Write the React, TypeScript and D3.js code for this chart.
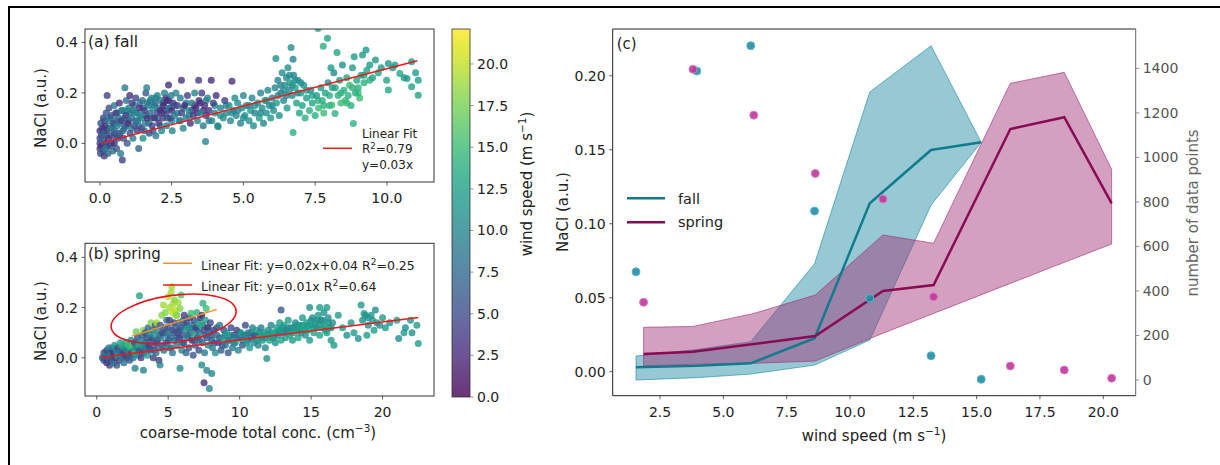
import * as d3 from "d3";

const FONT = "'DejaVu Sans', sans-serif";
const INK = "#222";

// (a) fall scatter: [coarse conc, NaCl, wind speed]
const fallScatter: number[][] = [
  [0,0.0,4],[0,0.02,5],[0,-0.02,4],[0,0.05,3],[0.02,-0.04,5],[0.03,0.08,6],[0.05,-0.01,3],[0.05,0.03,5],[0.08,0.06,4],[0.1,-0.03,6],[0.1,0.01,7],[0.12,0.1,5],[0.15,-0.05,4],[0.15,0.04,8],[0.18,0.07,3],[0.2,0.0,5],[0.2,-0.02,9],[0.22,0.12,6],[0.25,0.05,4],[0.25,0.19,4],[0.28,-0.04,7],[0.3,0.02,3],[0.3,0.09,9],[0.32,0.14,5],
  [0.35,-0.01,5],[0.38,0.06,10],[0.4,0.11,6],[0.42,0.03,4],[0.45,-0.03,8],[0.48,0.08,5],[0.5,0.15,9],[0.5,0.0,3],[0.52,0.05,7],[0.55,0.12,4],[0.58,-0.02,6],[0.6,0.07,10],[0.62,0.02,5],[0.65,0.1,8],[0.68,0.16,3],[0.7,0.04,6],[0.72,-0.04,9],[0.75,0.09,4],[0.78,-0.066,4],[0.8,0.13,10],[0.82,0.02,5],[0.85,0.06,7],[0.87,0.22,9],[0.9,0.11,4],[0.92,0.17,8],[0.95,0.0,6],[0.98,0.08,3],
  [1.0,0.14,10],[1.04,0.19,3],[1.05,0.04,5],[1.1,0.1,8],[1.12,0.16,4],[1.15,0.02,9],[1.2,0.07,6],[1.22,0.12,10],[1.25,0.18,5],[1.3,0.05,4],[1.32,0.09,9],[1.35,-0.02,7],[1.38,0.14,3],[1.4,0.11,10],[1.45,0.06,5],[1.48,0.17,8],[1.5,0.02,11],[1.55,0.13,4],[1.58,0.08,9],[1.6,0.2,6],[1.63,0.22,10],[1.65,0.1,3],[1.7,0.15,9],[1.72,0.04,5],[1.75,0.12,7],[1.8,0.18,10],[1.82,0.07,4],[1.85,0.14,11],[1.9,0.1,3],[1.92,0.16,8],[1.95,0.03,9],[1.98,0.12,5],
  [2.0,0.19,10],[2.05,0.08,4],[2.1,0.13,3],[2.12,0.17,9],[2.15,0.05,10],[2.2,0.1,4],[2.22,0.15,3],[2.25,0.2,10],[2.3,0.12,5],[2.32,0.07,9],[2.35,0.17,3],[2.39,0.231,3],[2.4,0.14,10],[2.45,0.1,4],[2.48,0.19,9],[2.5,0.13,3],[2.52,0.05,10],[2.55,0.16,4],[2.6,0.11,9],[2.65,0.2,10],[2.7,0.15,4],[2.75,0.09,10],[2.8,0.18,9],[2.84,0.25,3],[2.85,0.12,4],[2.9,0.06,10],[2.95,0.15,3],[3.0,0.1,9],
  [3.05,0.19,4],[3.1,0.13,10],[3.15,0.08,3],[3.2,0.16,9],[3.25,0.11,4],[3.3,0.2,10],[3.35,0.14,3],[3.4,0.09,10],[3.44,0.25,4],[3.45,0.17,3],[3.5,0.12,10],[3.55,0.2,4],[3.6,0.07,9],[3.65,0.15,3],[3.68,0.007,10],[3.7,0.11,4],[3.75,0.18,10],[3.8,0.13,3],[3.88,0.25,3],[3.9,0.09,10],[3.95,0.16,4],
  [4.0,0.12,10],[4.05,0.19,3],[4.1,0.07,11],[4.12,0.066,10],[4.2,0.14,10],[4.3,0.1,11],[4.35,0.17,4],[4.4,0.12,10],[4.5,0.15,11],[4.55,0.09,10],[4.6,0.246,3],[4.65,0.13,10],[4.7,0.18,11],[4.75,0.11,10],[4.8,0.16,11],[4.9,0.08,10],[4.95,0.14,11],
  [5.0,0.19,10],[5.05,0.11,11],[5.1,0.15,10],[5.2,0.09,11],[5.25,0.13,12],[5.3,0.18,10],[5.35,0.07,11],[5.4,0.12,10],[5.5,0.16,11],[5.55,0.1,12],[5.6,0.2,10],[5.65,0.14,11],[5.7,0.08,10],[5.75,0.17,12],[5.8,0.12,11],[5.85,0.21,10],[5.9,0.15,11],[5.95,0.1,12],
  [6.0,0.18,10],[6.05,0.13,11],[6.1,0.22,10],[6.13,0.336,11],[6.15,0.16,12],[6.2,0.25,10],[6.25,0.11,11],[6.3,0.2,10],[6.35,0.28,11],[6.4,0.17,10],[6.45,0.23,11],[6.5,0.26,10],[6.52,0.14,12],[6.55,0.3,11],[6.6,0.21,10],[6.62,0.24,12],[6.66,0.38,11],[6.7,0.19,11],[6.73,0.333,10],[6.73,0.043,14],[6.75,0.27,10],[6.8,0.22,12],[6.85,0.16,13],[6.9,0.25,11],[6.95,0.12,13],
  [7.0,0.2,12],[7.05,0.15,13],[7.1,0.23,11],[7.15,0.1,14],[7.2,0.18,12],[7.3,0.13,14],[7.35,0.21,11],[7.4,0.16,13],[7.5,0.11,14],[7.55,0.19,12],[7.6,0.455,13],[7.62,0.14,15],[7.7,0.22,12],[7.75,0.17,14],[7.78,0.385,14],[7.8,0.12,15],[7.85,0.2,13],[7.93,0.416,13],[7.95,0.24,11],
  [8.0,0.15,14],[8.05,0.3,12],[8.08,0.152,15],[8.1,0.22,13],[8.15,0.28,11],[8.19,0.118,14],[8.26,0.36,13],[8.3,0.19,14],[8.35,0.25,12],[8.4,0.16,15],[8.45,0.31,11],[8.5,0.21,14],[8.55,0.17,15],[8.6,0.26,13],[8.65,0.19,14],[8.7,0.23,15],[8.75,0.15,14],[8.8,0.3,12],[8.83,0.079,14],[8.86,0.343,12],[8.9,0.2,14],[8.95,0.25,13],
  [9.0,0.22,14],[9.05,0.18,15],[9.1,0.27,13],[9.15,0.35,12],[9.2,0.24,14],[9.27,0.37,12],[9.3,0.29,13],[9.4,0.31,12],[9.5,0.26,13],[9.6,0.33,12],[9.7,0.28,13],[9.8,0.3,12],[9.99,0.25,13],[10.05,0.316,12],[10.05,0.211,13],[10.2,0.3,12],[10.28,0.31,12],[10.45,0.277,13],[10.6,0.26,12],[10.7,0.257,12],[10.86,0.323,12],[10.86,0.224,13],[11.0,0.28,12],[11.09,0.25,12],[11.09,0.191,13],
];

// (a) fall, denser core of the cloud
const fallScatterCore: number[][] = [
  [0.1,0.05,6],[0.15,0.09,7],[0.2,0.03,8],[0.25,-0.01,6],[0.3,0.06,7],[0.35,0.1,8],[0.4,0.0,6],[0.45,0.07,9],[0.5,0.04,7],[0.55,0.09,8],[0.6,0.12,9],[0.65,0.03,7],[0.7,0.08,9],[0.75,0.13,8],[0.8,0.05,9],[0.85,0.1,10],[0.9,0.07,8],[0.95,0.13,9],
  [1.0,0.09,7],[1.05,0.12,9],[1.1,0.06,10],[1.15,0.13,8],[1.2,0.15,9],[1.25,0.09,7],[1.3,0.12,10],[1.35,0.07,8],[1.4,0.16,9],[1.45,0.1,10],[1.5,0.14,7],[1.55,0.05,9],[1.6,0.11,8],[1.65,0.16,10],[1.7,0.08,9],[1.75,0.17,8],[1.8,0.1,10],[1.85,0.05,7],[1.9,0.15,9],[1.95,0.18,10],
  [2.0,0.1,8],[2.05,0.14,9],[2.1,0.07,10],[2.15,0.12,3],[2.2,0.16,2],[2.25,0.13,3],[2.3,0.18,2],[2.35,0.1,9],[2.4,0.17,3],[2.45,0.14,2],[2.5,0.09,10],[2.6,0.15,9],[2.7,0.12,10],[2.8,0.09,9],[2.9,0.14,10],
  [3.0,0.16,9],[3.1,0.11,10],[3.2,0.13,3],[3.3,0.15,2],[3.4,0.12,3],[3.5,0.16,2],[3.6,0.13,3],[3.7,0.17,10],[3.8,0.09,9],[4.0,0.15,10],[4.2,0.11,11],[4.4,0.15,10],[4.6,0.12,11],[4.8,0.13,10],
  [5.0,0.1,11],[5.2,0.15,10],[5.4,0.15,11],[5.6,0.12,10],[5.8,0.17,11],[6.0,0.15,10],[6.2,0.19,11],[6.3,0.23,10],[6.4,0.21,11],[6.5,0.19,10],[6.6,0.27,11],[6.7,0.23,10],[6.8,0.25,11],[6.9,0.2,10],
  [7.0,0.24,11],[7.2,0.21,12],[7.4,0.19,13],[7.6,0.17,14],[7.8,0.15,14],[8.0,0.19,14],[8.2,0.22,13],[8.4,0.2,14],[8.6,0.16,15],[8.8,0.22,14],[9.0,0.2,15],[9.2,0.27,13],[9.4,0.25,14],
];

// (b) spring scatter: [coarse conc, NaCl, wind speed]
const springScatter: number[][] = [
  [0.4,0.0,5],[0.5,0.02,4],[0.5,-0.01,6],[0.6,0.01,9],[0.7,0.03,5],[0.7,-0.02,3],[0.8,0.0,7],[0.85,0.04,10],[0.9,-0.03,4],[0.95,0.02,6],[1.0,0.01,11],[1.05,-0.01,5],[1.1,0.04,8],[1.15,0.02,3],[1.2,-0.02,9],[1.25,0.05,12],[1.3,0.0,4],[1.35,0.03,10],[1.4,-0.03,6],[1.45,0.01,13],[1.5,0.04,5],[1.55,0.02,9],[1.6,-0.01,4],[1.65,0.06,12],[1.7,0.03,7],[1.75,0.0,10],[1.8,0.05,14],[1.85,0.02,5],[1.9,-0.02,8],[1.95,0.04,11],
  [2.0,0.01,4],[2.05,0.06,13],[2.1,0.03,9],[2.15,0.0,5],[2.2,0.05,15],[2.25,0.02,10],[2.3,-0.01,6],[2.35,0.04,14],[2.4,0.07,11],[2.45,0.02,4],[2.5,0.05,16],[2.55,0.0,8],[2.6,0.03,12],[2.65,0.06,5],[2.68,-0.042,10],[2.7,0.02,15],[2.76,0.104,17],[2.8,0.04,9],[2.85,0.08,5],[2.9,0.01,11],[2.95,0.05,14],[2.99,0.247,13],
  [3.0,0.03,6],[3.05,0.07,10],[3.1,0.0,4],[3.15,0.05,12],[3.2,0.09,7],[3.27,0.11,18],[3.27,-0.049,10],[3.3,0.02,5],[3.35,0.06,11],[3.4,0.1,6],[3.45,0.04,9],[3.5,0.08,5],[3.55,0.01,12],[3.6,0.12,7],[3.65,0.05,4],[3.7,0.09,10],[3.75,0.03,6],[3.8,0.14,18],[3.85,0.07,5],[3.9,0.11,9],[3.95,0.0,4],
  [4.0,0.05,6],[4.05,0.09,11],[4.1,0.13,5],[4.15,0.02,8],[4.2,0.14,19],[4.25,0.07,5],[4.3,0.11,10],[4.35,-0.01,4],[4.4,0.04,7],[4.43,-0.029,10],[4.45,0.13,6],[4.5,0.08,9],[4.55,0.17,18],[4.6,0.1,5],[4.67,0.21,19],[4.7,0.03,8],[4.75,0.12,6],[4.8,0.18,18],[4.85,0.06,5],[4.9,0.15,7],[4.95,0.09,10],
  [5.0,0.243,20],[5.0,0.12,6],[5.05,0.04,9],[5.1,0.2,19],[5.1,0.15,5],[5.15,0.08,7],[5.2,0.26,19],[5.25,0.283,19],[5.25,0.11,6],[5.3,0.18,20],[5.3,0.02,9],[5.36,0.216,19],[5.4,0.14,5],[5.45,0.23,18],[5.45,0.07,8],[5.5,0.19,20],[5.5,0.12,6],[5.55,0.17,19],[5.6,0.17,18],[5.6,0.05,9],[5.65,0.1,5],[5.7,0.22,19],[5.75,0.14,7],[5.8,0.08,5],[5.83,0.196,18],[5.83,-0.042,11],[5.9,0.25,16],[5.9,0.12,6],[5.95,0.03,10],
  [6.0,0.09,5],[6.05,0.15,8],[6.1,0.06,6],[6.12,0.17,4],[6.2,0.11,10],[6.25,0.02,7],[6.3,0.14,5],[6.35,0.08,9],[6.4,0.12,12],[6.45,0.04,6],[6.5,0.16,5],[6.55,0.1,8],[6.6,0.177,15],[6.65,0.07,4],[6.7,0.13,10],[6.75,0.01,6],[6.8,0.15,5],[6.85,0.09,13],[6.9,0.05,7],[6.95,0.12,4],[7.0,0.18,14],[7.05,0.08,6],[7.1,0.14,11],[7.15,0.03,5],[7.2,0.1,9],[7.25,0.16,4],[7.3,0.13,14],[7.35,0.17,3],[7.35,-0.029,11],[7.4,0.06,8],[7.43,0.217,14],[7.5,0.11,5],[7.51,-0.099,3],[7.55,0.02,9],[7.6,0.15,12],[7.66,0.196,15],[7.7,-0.049,10],[7.7,0.08,6],[7.75,0.12,4],[7.8,0.05,10],[7.88,-0.122,10],[7.9,0.1,7],[7.95,0.14,5],
  [8.05,-0.062,10],[8.05,0.07,6],[8.1,0.04,9],[8.2,0.11,5],[8.3,0.02,11],[8.4,0.09,7],[8.5,0.06,4],[8.6,0.13,9],[8.7,0.03,6],[8.8,0.08,11],[8.9,0.11,5],[9.0,0.05,8],[9.1,0.1,12],[9.2,0.02,6],[9.3,0.07,10],[9.4,0.12,5],[9.5,0.04,9],[9.6,0.09,7],[9.7,0.06,11],[9.8,0.11,4],[9.9,0.03,10],[10.0,0.08,8],[10.1,0.1,12],[10.2,0.05,6],[10.3,0.09,10],[10.4,0.13,5],[10.5,0.06,11],[10.6,0.1,9],[10.7,0.04,12],[10.8,0.08,7],[10.9,0.12,10],[11.0,0.06,11],[11.1,0.09,6],[11.2,0.11,12],[11.3,0.05,10],[11.4,0.08,13],[11.5,0.12,9],[11.6,0.07,11],[11.7,0.1,12],[11.8,0.04,10],[11.9,-0.003,11],[11.95,0.09,13],
  [12.0,0.11,11],[12.1,0.07,12],[12.2,0.13,10],[12.3,0.08,12],[12.4,0.1,13],[12.5,0.06,11],[12.6,0.12,12],[12.7,0.09,10],[12.8,0.14,12],[12.9,0.19,6],[12.9,0.07,13],[13.0,0.1,11],[13.1,0.13,12],[13.2,0.08,12],[13.3,0.11,10],[13.4,0.15,12],[13.5,0.09,13],[13.6,0.12,11],[13.7,0.07,12],[13.8,0.1,13],[13.9,0.14,11],[14.0,0.11,12],[14.1,0.08,13],[14.2,0.13,12],[14.3,0.1,11],[14.4,0.16,12],[14.5,0.12,13],[14.6,0.09,11],[14.7,0.14,12],[14.8,0.11,13],[14.9,0.2,11],[14.9,0.07,12],[15.0,0.13,12],[15.1,0.16,11],[15.2,0.1,13],[15.3,0.14,12],[15.4,0.12,11],[15.5,0.17,12],[15.6,0.2,12],[15.6,0.09,13],[15.7,0.15,11],[15.8,0.12,12],[15.9,0.18,11],[16.0,0.13,13],[16.1,0.2,12],[16.1,0.1,12],[16.2,0.16,11],[16.3,0.12,13],[16.4,0.07,12],[16.5,0.14,11],[16.6,0.05,12],[16.9,0.17,12],
  [17.2,0.12,12],[17.5,0.09,11],[17.8,0.14,12],[18.0,0.1,12],[18.3,0.077,11],[18.5,0.21,12],[18.6,0.15,11],[18.7,0.176,12],[18.9,0.09,12],[19.0,0.13,11],[19.2,0.17,12],[19.4,0.11,12],[19.5,0.19,11],[19.6,0.14,12],[19.8,0.13,11],[20.0,0.16,12],[20.2,0.12,12],[20.5,0.14,11],[21.0,0.15,12],[21.13,0.077,11],[21.5,0.1,12],[21.6,0.12,11],[21.96,0.15,12],[22.06,0.1,11],[22.4,0.13,12],[22.5,0.057,12],
];

// (b) spring, denser core of the band
const springScatterCore: number[][] = [
  [0.6,0.0,7],[0.8,0.02,8],[1.0,-0.01,6],[1.2,0.01,7],[1.4,0.02,8],[1.6,0.01,6],[1.8,0.0,7],[2.0,0.03,8],[2.2,0.02,12],[2.4,0.01,7],[2.6,0.05,13],[2.8,0.02,6],
  [3.0,0.05,7],[3.2,0.03,8],[3.4,0.06,6],[3.6,0.04,7],[3.8,0.08,6],[4.0,0.03,7],[4.2,0.06,8],[4.4,0.09,6],[4.6,0.05,7],[4.8,0.1,6],[5.0,0.07,7],[5.2,0.04,8],[5.4,0.1,6],[5.6,0.08,7],[5.8,0.11,6],
  [6.0,0.06,7],[6.2,0.13,6],[6.4,0.09,7],[6.6,0.12,6],[6.8,0.07,8],[7.0,0.11,6],[7.2,0.07,7],[7.4,0.13,6],[7.6,0.09,7],[7.8,0.12,6],[8.0,0.09,7],[8.2,0.06,8],[8.4,0.12,6],[8.6,0.08,9],[8.8,0.05,7],
  [9.0,0.09,10],[9.2,0.07,8],[9.4,0.09,11],[9.6,0.06,9],[9.8,0.08,10],[10.0,0.1,9],[10.2,0.07,11],[10.4,0.09,10],[10.6,0.07,12],[10.8,0.1,11],[11.0,0.09,10],[11.2,0.07,12],[11.4,0.1,11],[11.6,0.09,12],[11.8,0.08,11],
  [12.0,0.09,12],[12.2,0.1,11],[12.4,0.08,12],[12.6,0.1,11],[12.8,0.11,12],[13.0,0.12,11],[13.2,0.1,12],[13.4,0.12,11],[13.6,0.1,12],[13.8,0.12,11],[14.0,0.13,12],[14.2,0.11,11],[14.4,0.13,12],[14.6,0.11,11],[14.8,0.13,12],
  [15.0,0.15,11],[15.2,0.12,12],[15.4,0.15,11],[15.6,0.13,12],[15.8,0.15,11],[16.0,0.11,12],[16.2,0.14,11],[16.4,0.12,12],[18.8,0.17,11],[19.0,0.16,11],[19.3,0.15,12],
];

// linear fits
const fallFitX = [0.03, 11.06];
const fallFitY = [0.001, 0.327];
const springFitX = [0.35, 22.5];
const springFitY = [0.0025, 0.161];
const springSubFitX = [2.45, 8.4];
const springSubFitY = [0.0865, 0.193];
const ellipseCenter = [5.38, 0.155];

// (c) binned by wind speed
const fallWind = [1.55, 3.95, 6.08, 8.6, 10.78, 13.2, 15.18];
const fallMedian = [0.003, 0.004, 0.0057, 0.0226, 0.1138, 0.1498, 0.155];
const fallLow = [-0.0056, -0.004, -0.0016, 0.0045, 0.0214, 0.1126, 0.155];
const fallHigh = [0.0106, 0.015, 0.0203, 0.073, 0.189, 0.2203, 0.155];
const fallCount = [486, 1388, 1502, 759, 367, 109, 3];

const springWind = [1.85, 3.8, 6.2, 8.63, 11.3, 13.3, 16.33, 18.46, 20.33];
const springMedian = [0.012, 0.0135, 0.0187, 0.0241, 0.0545, 0.0586, 0.164, 0.172, 0.1138];
const springLow = [0.004, 0.005, 0.0057, 0.0072, 0.026, 0.0394, 0.0597, 0.0739, 0.0863];
const springHigh = [0.03, 0.0306, 0.0394, 0.0518, 0.0924, 0.0868, 0.1949, 0.2023, 0.1368];
const springCount = [349, 1396, 1190, 928, 813, 374, 63, 45, 8];

const ticksA = [0, 2.5, 5, 7.5, 10];
const ticksB = [0, 5, 10, 15, 20];
const ticksNaCl = [0, 0.2, 0.4];
const ticksWindBar = [0, 2.5, 5, 7.5, 10, 12.5, 15, 17.5, 20];
const ticksWindC = [2.5, 5, 7.5, 10, 12.5, 15, 17.5, 20];
const ticksNaClC = [0, 0.05, 0.1, 0.15, 0.2];
const ticksCount = [0, 200, 400, 600, 800, 1000, 1200, 1400];

const WMAX = 22.1;
const color = (w: number) => d3.interpolateViridis(Math.min(1, w / WMAX));

const FALL = "#1887a2";
const SPRING = "#9f2c71";
const FALL_LINE = "#117b8e";
const SPRING_LINE = "#890b55";

type Box = { l: number; r: number; t: number; b: number };

function Clip({ box, id }: { box: Box; id: string }) {
  return (
    <defs>
      <clipPath id={id}>
        <rect x={box.l} y={box.t} width={box.r - box.l} height={box.b - box.t} />
      </clipPath>
    </defs>
  );
}

function XTicks({ x, ticks, y, fmt }: { x: any; ticks: number[]; y: number; fmt: (v: number) => string }) {
  return (
    <g>
      {ticks.map((t) => (
        <g key={t}>
          <line x1={x(t)} x2={x(t)} y1={y} y2={y + 3.5} stroke="#333" strokeWidth={0.8} />
          <text x={x(t)} y={y + 21} textAnchor="middle" fontSize={14} fill={INK}>{fmt(t)}</text>
        </g>
      ))}
    </g>
  );
}

function YTicks({ y, ticks, x, fmt, side = "left", fill = INK }: { y: any; ticks: number[]; x: number; fmt: (v: number) => string; side?: string; fill?: string }) {
  const dir = side === "left" ? -1 : 1;
  return (
    <g>
      {ticks.map((t) => (
        <g key={t}>
          <line x1={x} x2={x + dir * 3.5} y1={y(t)} y2={y(t)} stroke={side === "left" ? "#333" : "#777"} strokeWidth={0.8} />
          <text x={x + dir * 7} y={y(t) + 5} textAnchor={side === "left" ? "end" : "start"} fontSize={14} fill={fill}>{fmt(t)}</text>
        </g>
      ))}
    </g>
  );
}

function Scatter({ pts, x, y, clip }: { pts: number[][]; x: any; y: any; clip: string }) {
  return (
    <g clipPath={`url(#${clip})`}>
      {pts.map((p, i) => (
        <circle key={i} cx={x(p[0])} cy={y(p[1])} r={3.5} fill={color(p[2])} fillOpacity={0.8} />
      ))}
    </g>
  );
}

export default function App() {
  const boxA: Box = { l: 85, r: 434, t: 29, b: 182 };
  const boxB: Box = { l: 85, r: 434, t: 243.3, b: 396 };
  const boxC: Box = { l: 612.7, r: 1135.7, t: 29, b: 395.7 };
  const bar = { l: 452, r: 470, t: 29, b: 397 };

  const xA = d3.scaleLinear().domain([-0.52, 11.64]).range([boxA.l, boxA.r]);
  const yA = d3.scaleLinear().domain([-0.153, 0.453]).range([boxA.b, boxA.t]);
  const xB = d3.scaleLinear().domain([-0.82, 23.6]).range([boxB.l, boxB.r]);
  const yB = d3.scaleLinear().domain([-0.152, 0.456]).range([boxB.b, boxB.t]);
  const yBar = d3.scaleLinear().domain([0, WMAX]).range([bar.b, bar.t]);
  const xC = d3.scaleLinear().domain([0.63, 21.28]).range([boxC.l, boxC.r]);
  const yC = d3.scaleLinear().domain([-0.0162, 0.2316]).range([boxC.b, boxC.t]);
  const yC2 = d3.scaleLinear().domain([-70.5, 1577]).range([boxC.b, boxC.t]);

  const f1 = d3.format(".1f");
  const f2 = d3.format(".2f");
  const fd = d3.format("d");

  const band = (xs: number[], lo: number[], hi: number[]) =>
    d3.area<number>().x((_, i) => xC(xs[i])).y0((_, i) => yC(lo[i])).y1((_, i) => yC(hi[i]))(xs)!;
  const med = (xs: number[], ys: number[]) =>
    d3.line<number>().x((_, i) => xC(xs[i])).y((_, i) => yC(ys[i]))(xs)!;

  const gradStops = d3.range(0, 1.0001, 0.05);
  const ex = xB(ellipseCenter[0]);
  const ey = yB(ellipseCenter[1]);

  return (
    <svg width={1220} height={465} style={{ position: "absolute", left: 0, top: 0, background: "#fff" }} fontFamily={FONT}>
      <rect width={1220} height={465} fill="#fff" />
      <line x1={8} x2={1220} y1={7} y2={7} stroke="#000" strokeWidth={2} />
      <line x1={9} x2={9} y1={6} y2={465} stroke="#000" strokeWidth={2} />

      <Clip box={boxA} id="clipA" />
      <Clip box={boxB} id="clipB" />
      <Clip box={boxC} id="clipC" />
      <defs>
        <linearGradient id="viridis" x1="0" x2="0" y1="1" y2="0">
          {gradStops.map((s) => (
            <stop key={s} offset={s} stopColor={d3.interpolateViridis(s)} />
          ))}
        </linearGradient>
      </defs>

      {/* (a) fall */}
      <Scatter pts={fallScatterCore} x={xA} y={yA} clip="clipA" />
      <Scatter pts={fallScatter} x={xA} y={yA} clip="clipA" />
      <line x1={xA(fallFitX[0])} y1={yA(fallFitY[0])} x2={xA(fallFitX[1])} y2={yA(fallFitY[1])} stroke="#f01818" strokeWidth={1.5} />
      <rect x={boxA.l} y={boxA.t} width={boxA.r - boxA.l} height={boxA.b - boxA.t} fill="none" stroke="#333" strokeWidth={1} />
      <XTicks x={xA} ticks={ticksA} y={boxA.b} fmt={f1} />
      <YTicks y={yA} ticks={ticksNaCl} x={boxA.l} fmt={f1} />
      <text x={88} y={46.5} fontSize={15.5} fill={INK}>(a) fall</text>
      <text x={362} y={137.5} fontSize={12} fill={INK}>Linear Fit</text>
      <line x1={323} x2={352} y1={148.3} y2={148.3} stroke="#f01818" strokeWidth={1.5} />
      <text x={362} y={153} fontSize={12} fill={INK}>R<tspan dy={-4} fontSize={8.5}>2</tspan><tspan dy={4}>=0.79</tspan></text>
      <text x={362} y={168.5} fontSize={12} fill={INK}>y=0.03x</text>
      <text transform={`translate(46,108) rotate(-90)`} textAnchor="middle" fontSize={15} fill={INK}>NaCl (a.u.)</text>

      {/* (b) spring */}
      <Scatter pts={springScatterCore} x={xB} y={yB} clip="clipB" />
      <Scatter pts={springScatter} x={xB} y={yB} clip="clipB" />
      <line x1={xB(springFitX[0])} y1={yB(springFitY[0])} x2={xB(springFitX[1])} y2={yB(springFitY[1])} stroke="#f01818" strokeWidth={1.5} />
      <line x1={xB(springSubFitX[0])} y1={yB(springSubFitY[0])} x2={xB(springSubFitX[1])} y2={yB(springSubFitY[1])} stroke="#ff8c1a" strokeWidth={1.5} />
      <ellipse cx={ex} cy={ey} rx={63} ry={23.5} transform={`rotate(-8 ${ex} ${ey})`} fill="none" stroke="#e8141c" strokeWidth={1.6} />
      <rect x={boxB.l} y={boxB.t} width={boxB.r - boxB.l} height={boxB.b - boxB.t} fill="none" stroke="#333" strokeWidth={1} />
      <XTicks x={xB} ticks={ticksB} y={boxB.b} fmt={fd} />
      <YTicks y={yB} ticks={ticksNaCl} x={boxB.l} fmt={f1} />
      <text x={88} y={259} fontSize={15} fill={INK}>(b) spring</text>
      <line x1={163} x2={192} y1={263.3} y2={263.3} stroke="#ff8c1a" strokeWidth={1.5} />
      <text x={201} y={269.5} fontSize={12.5} fill={INK}>Linear Fit: y=0.02x+0.04 R<tspan dy={-5} fontSize={9}>2</tspan><tspan dy={5}>=0.25</tspan></text>
      <line x1={163} x2={192} y1={285} y2={285} stroke="#f01818" strokeWidth={1.5} />
      <text x={201} y={290.5} fontSize={12.5} fill={INK}>Linear Fit: y=0.01x R<tspan dy={-5} fontSize={9}>2</tspan><tspan dy={5}>=0.64</tspan></text>
      <text transform={`translate(46,321) rotate(-90)`} textAnchor="middle" fontSize={15} fill={INK}>NaCl (a.u.)</text>
      <text x={258} y={438} textAnchor="middle" fontSize={15} fill={INK}>coarse-mode total conc. (cm<tspan dy={-6} fontSize={10.5}>−3</tspan><tspan dy={6}>)</tspan></text>

      {/* colorbar */}
      <rect x={bar.l} y={bar.t} width={bar.r - bar.l} height={bar.b - bar.t} fill="url(#viridis)" opacity={0.8} />
      <rect x={bar.l} y={bar.t} width={bar.r - bar.l} height={bar.b - bar.t} fill="none" stroke="#333" strokeWidth={0.8} />
      <YTicks y={yBar} ticks={ticksWindBar} x={bar.r} fmt={f1} side="right" />
      <text transform={`translate(532,184) rotate(-90)`} textAnchor="middle" fontSize={15} fill={INK}>wind speed (m s<tspan dy={-6} fontSize={10.5}>−1</tspan><tspan dy={6}>)</tspan></text>

      {/* (c) */}
      <g clipPath="url(#clipC)">
        <path d={band(fallWind, fallLow, fallHigh)} fill={FALL} fillOpacity={0.45} stroke={FALL} strokeOpacity={0.6} strokeWidth={1} />
        <path d={band(springWind, springLow, springHigh)} fill={SPRING} fillOpacity={0.45} stroke={SPRING} strokeOpacity={0.6} strokeWidth={1} />
        <path d={med(fallWind, fallMedian)} fill="none" stroke={FALL_LINE} strokeWidth={2.5} />
        <path d={med(springWind, springMedian)} fill="none" stroke={SPRING_LINE} strokeWidth={2.5} />
        {fallWind.map((w, i) => (
          <circle key={`fc${i}`} cx={xC(w)} cy={yC2(fallCount[i])} r={4} fill="#1f8ea6" fillOpacity={0.9} stroke="#5fb4c6" strokeWidth={1} />
        ))}
        {springWind.map((w, i) => (
          <circle key={`sc${i}`} cx={xC(w)} cy={yC2(springCount[i])} r={4} fill="#c0369a" fillOpacity={0.9} stroke="#dc7cc0" strokeWidth={1} />
        ))}
      </g>
      <line x1={boxC.l} x2={boxC.r} y1={boxC.t} y2={boxC.t} stroke="#222" strokeWidth={1} />
      <line x1={boxC.l} x2={boxC.r} y1={boxC.b} y2={boxC.b} stroke="#222" strokeWidth={1} />
      <line x1={boxC.l} x2={boxC.l} y1={boxC.t} y2={boxC.b} stroke="#222" strokeWidth={1} />
      <line x1={boxC.r} x2={boxC.r} y1={boxC.t} y2={boxC.b} stroke="#666" strokeWidth={1} />
      <XTicks x={xC} ticks={ticksWindC} y={boxC.b} fmt={f1} />
      <YTicks y={yC} ticks={ticksNaClC} x={boxC.l} fmt={f2} />
      <YTicks y={yC2} ticks={ticksCount} x={boxC.r} fmt={fd} side="right" fill="#555" />
      <text x={616.7} y={49} fontSize={15} fill={INK}>(c)</text>
      <line x1={627} x2={665} y1={198.3} y2={198.3} stroke={FALL_LINE} strokeWidth={2.5} />
      <text x={678} y={203.5} fontSize={14.5} fill={INK}>fall</text>
      <line x1={627} x2={665} y1={222.3} y2={222.3} stroke={SPRING_LINE} strokeWidth={2.5} />
      <text x={678} y={227} fontSize={14.5} fill={INK}>spring</text>
      <text transform={`translate(568,212) rotate(-90)`} textAnchor="middle" fontSize={15} fill={INK}>NaCl (a.u.)</text>
      <text transform={`translate(1198,213) rotate(-90)`} textAnchor="middle" fontSize={15} fill="#666">number of data points</text>
      <text x={874} y={441} textAnchor="middle" fontSize={15} fill={INK}>wind speed (m s<tspan dy={-6} fontSize={10.5}>−1</tspan><tspan dy={6}>)</tspan></text>
    </svg>
  );
}
